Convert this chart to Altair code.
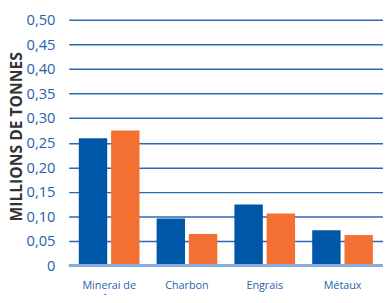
import altair as alt
import pandas as pd

categories = ["Minerai de fer", "Charbon", "Engrais", "Métaux"]
series = ["S1", "S2"]
values_s1 = [0.259, 0.096, 0.124, 0.072]
values_s2 = [0.275, 0.064, 0.106, 0.062]
y_ticks = [0, 0.05, 0.10, 0.15, 0.20, 0.25, 0.30, 0.35, 0.40, 0.45, 0.50]

rows = []
for c, a, b in zip(categories, values_s1, values_s2):
    rows.append({"cat": c, "series": series[0], "value": a})
    rows.append({"cat": c, "series": series[1], "value": b})
df = pd.DataFrame(rows)

font = "Open Sans"
blue_text = "#1f62ad"

y_axis = alt.Axis(values=y_ticks, labelExpr="datum.value == 0 ? '0' : replace(format(datum.value, '.2f'), '.', ',')",
                  labelFontSize=15, labelColor=blue_text, labelFont=font,
                  labelPadding=14, ticks=False, domain=False, labelOverlap=False,
                  gridColor="#2a6ab3", gridWidth=1.5,
                  titleFont=font, titleFontSize=16, titleFontWeight="bold",
                  titleColor="#333333", titleX=-53, titleY=119,
                  titleAngle=-90, titleAlign="center", titleBaseline="middle")
y_scale = alt.Scale(domain=[0, 0.5], nice=False)

bars = alt.Chart(df).mark_bar(size=29).encode(
    x=alt.X("cat:N", sort=categories, title=None,
            scale=alt.Scale(paddingInner=0.22, paddingOuter=0.13),
            axis=alt.Axis(labelAngle=0, labelFontSize=11, labelColor=blue_text,
                          labelFont=font, labelPadding=14, ticks=False, domain=False,
                          labelExpr="datum.label == 'Minerai de fer' ? ['Minerai de', 'fer'] : datum.label",
                          labelLineHeight=14)),
    xOffset=alt.XOffset("series:N", scale=alt.Scale(paddingInner=0.12)),
    y=alt.Y("value:Q", title="MILLIONS DE TONNES", scale=y_scale, axis=y_axis),
    color=alt.Color("series:N", scale=alt.Scale(domain=series, range=["#0057a8", "#f37032"]), legend=None),
)

zero = alt.Chart(pd.DataFrame({"y": [0]})).mark_rule(color="#86aedb", strokeWidth=3).encode(
    y=alt.Y("y:Q", title="MILLIONS DE TONNES", scale=y_scale, axis=y_axis))

chart = alt.layer(bars, zero).properties(
    width=321, height=251,
    autosize=alt.AutoSizeParams(type="none"),
    padding={"left": 62, "top": 9, "right": 0, "bottom": 27},
).configure_view(stroke=None)

chart.save("out.html", embed_options={"renderer": "svg", "actions": False})
